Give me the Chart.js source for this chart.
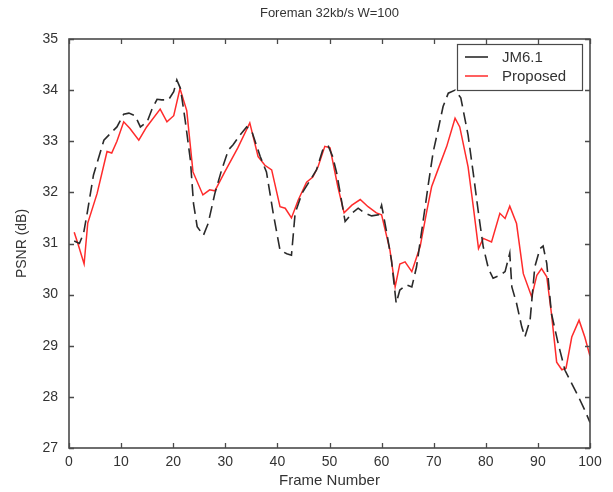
<!DOCTYPE html>
<html><head><meta charset="utf-8">
<script src="https://cdn.jsdelivr.net/npm/chart.js@4.4.0/dist/chart.umd.min.js"></script>
<style>html,body{margin:0;padding:0;background:#fff;}canvas{display:block;}</style>
</head><body>
<canvas id="c" width="613" height="492" style="width:613px;height:492px"></canvas>
<script>
const chartTitle = 'Foreman 32kb/s W=100';
const xAxisTitle = 'Frame Number';
const yAxisTitle = 'PSNR (dB)';
const seriesNames = ['JM6.1', 'Proposed'];
const xTickValues = [0, 10, 20, 30, 40, 50, 60, 70, 80, 90, 100];
const yTickValues = [27, 28, 29, 30, 31, 32, 33, 34, 35];

const jmFrames = [1, 2, 2.8, 3.5, 4.7, 6.7, 8.3, 9.2, 10.5, 11.5, 12.7, 13.7, 15, 15.9, 16.9, 17.8, 19.1, 20.1, 20.7, 21.4, 22.3, 23.3, 23.9, 24.6, 25.8, 26.7, 28, 29.3, 30.6, 31.5, 32.8, 34.1, 35.1, 36.7, 37.9, 39.2, 40.5, 41.8, 42.7, 43.4, 44.7, 46.3, 47.5, 48.8, 49.8, 50.6, 51.4, 53, 54.3, 55.5, 56.8, 58.1, 59.4, 60, 61, 61.9, 62.8, 63.5, 64.8, 65.8, 66.7, 68, 69, 69.9, 70.9, 71.8, 72.8, 74.1, 75.2, 76.6, 77.6, 78.6, 79.5, 80.5, 81.4, 82.7, 83.7, 84.6, 85, 85.9, 86.9, 87.5, 88.5, 89.4, 90.4, 91, 91.7, 92.6, 93.9, 95.2, 96.5, 97.8, 99, 100];
const jmPsnr = [31.05, 31.0, 31.2, 31.6, 32.34, 33.02, 33.19, 33.28, 33.53, 33.55, 33.5, 33.28, 33.38, 33.62, 33.82, 33.81, 33.81, 33.97, 34.2, 34.03, 33.41, 32.63, 31.78, 31.33, 31.16, 31.39, 31.98, 32.44, 32.83, 32.93, 33.12, 33.28, 33.19, 32.7, 32.4, 31.59, 30.87, 30.8, 30.77, 31.59, 31.98, 32.24, 32.44, 32.86, 32.9, 32.7, 32.37, 31.43, 31.59, 31.69, 31.59, 31.54, 31.56, 31.75, 31.2, 30.67, 29.83, 30.09, 30.19, 30.15, 30.54, 31.46, 32.18, 32.79, 33.25, 33.68, 33.94, 34.0, 33.85, 33.12, 32.37, 31.59, 30.94, 30.51, 30.32, 30.38, 30.45, 30.81, 30.15, 29.83, 29.37, 29.17, 29.5, 30.54, 30.9, 30.95, 30.61, 29.63, 29.04, 28.52, 28.26, 28.0, 27.74, 27.5];

const propFrames = [1, 1.7, 2.9, 3.6, 5.4, 7.3, 8.2, 9.2, 10.5, 11.7, 13.4, 14.9, 17.5, 18.8, 20.1, 21.3, 22.6, 23.8, 25.7, 27, 28, 29.9, 32.4, 34.7, 36.3, 37.6, 38.9, 40.5, 41.5, 42.7, 44, 45.6, 46.8, 47.8, 49.1, 50.1, 51.6, 52.8, 54.3, 55.9, 57.4, 59, 60, 61.6, 62.6, 63.5, 64.5, 65.8, 67.4, 68.7, 69.6, 70.8, 72.5, 74.1, 75, 76.6, 77.6, 78.6, 79.5, 81.1, 82.7, 83.7, 84.6, 85.9, 87.2, 88.8, 89.8, 90.7, 91.7, 92.6, 93.6, 94.6, 95.4, 96.5, 97.9, 99, 100];
const propPsnr = [31.22, 31.0, 30.6, 31.4, 31.98, 32.8, 32.77, 33.0, 33.38, 33.25, 33.02, 33.28, 33.63, 33.38, 33.5, 34.03, 33.6, 32.4, 31.95, 32.05, 32.03, 32.4, 32.87, 33.36, 32.7, 32.53, 32.44, 31.72, 31.69, 31.5, 31.85, 32.2, 32.3, 32.5, 32.9, 32.87, 32.11, 31.6, 31.75, 31.86, 31.72, 31.6, 31.56, 30.87, 30.15, 30.6, 30.64, 30.45, 30.94, 31.65, 32.11, 32.44, 32.9, 33.45, 33.28, 32.5, 31.72, 30.9, 31.1, 31.03, 31.59, 31.49, 31.73, 31.39, 30.41, 29.96, 30.38, 30.51, 30.35, 29.63, 28.68, 28.53, 28.56, 29.17, 29.5, 29.17, 28.8];

const FONT = '"Liberation Sans", Arial, Helvetica, sans-serif';
const TEXT = '#333333';
const AXIS = '#4a4a4a';

const toPoints = (xs, ys) => xs.map((x, i) => ({x: x, y: ys[i]}));

const matlabAxes = {
  id: 'matlabAxes',
  afterDatasetsDraw(chart) {
    const ctx = chart.ctx;
    const ca = chart.chartArea;
    const xs = chart.scales.x, ys = chart.scales.y;
    ctx.save();
    ctx.strokeStyle = AXIS;
    ctx.lineWidth = 1.3;
    ctx.setLineDash([]);
    const tl = 5;
    ctx.beginPath();
    xTickValues.forEach(v => {
      const px = Math.round(xs.getPixelForValue(v)) + 0.5;
      ctx.moveTo(px, ca.bottom); ctx.lineTo(px, ca.bottom - tl);
      ctx.moveTo(px, ca.top); ctx.lineTo(px, ca.top + tl);
    });
    yTickValues.forEach(v => {
      const py = Math.round(ys.getPixelForValue(v)) + 0.5;
      ctx.moveTo(ca.left, py); ctx.lineTo(ca.left + tl, py);
      ctx.moveTo(ca.right, py); ctx.lineTo(ca.right - tl, py);
    });
    ctx.stroke();
    ctx.lineWidth = 1.6;
    ctx.strokeRect(ca.left, ca.top, ca.right - ca.left, ca.bottom - ca.top);

    const bw = 125, bh = 46;
    const bx = ca.right - 133, by = ca.top + 5;
    ctx.fillStyle = '#fff';
    ctx.fillRect(bx, by, bw, bh);
    ctx.lineWidth = 1.2;
    ctx.strokeStyle = AXIS;
    ctx.strokeRect(bx + 0.5, by + 0.5, bw, bh);
    ctx.font = '15px ' + FONT;
    ctx.textBaseline = 'middle';
    ctx.textAlign = 'left';
    chart.data.datasets.forEach((ds, i) => {
      const ly = by + 13 + i * 19;
      ctx.strokeStyle = ds.borderColor;
      ctx.lineWidth = ds.borderWidth;
      ctx.setLineDash([]);
      ctx.beginPath();
      ctx.moveTo(bx + 8, ly); ctx.lineTo(bx + 31, ly);
      ctx.stroke();
      ctx.fillStyle = TEXT;
      ctx.fillText(ds.label, bx + 45, ly + 1);
    });
    ctx.restore();
  }
};

new Chart(document.getElementById('c'), {
  type: 'line',
  data: {
    datasets: [
      {
        label: seriesNames[0],
        data: toPoints(jmFrames, jmPsnr),
        borderColor: '#2a2a2a',
        borderWidth: 1.6,
        borderDash: [12, 6],
        pointRadius: 0,
        fill: false,
        tension: 0
      },
      {
        label: seriesNames[1],
        data: toPoints(propFrames, propPsnr),
        borderColor: '#ff2b2b',
        borderWidth: 1.5,
        pointRadius: 0,
        fill: false,
        tension: 0
      }
    ]
  },
  options: {
    responsive: false,
    animation: false,
    devicePixelRatio: 1,
    layout: {padding: {left: 0, right: 23, top: 0, bottom: 0}},
    plugins: {
      legend: {display: false},
      tooltip: {enabled: false},
      title: {
        display: true,
        text: chartTitle,
        fullSize: false,
        color: TEXT,
        font: {family: FONT, size: 13, weight: 'normal', lineHeight: 1.2},
        padding: {top: 6, bottom: 17.4}
      }
    },
    scales: {
      x: {
        type: 'linear',
        min: 0, max: 100,
        afterBuildTicks: s => { s.ticks = xTickValues.map(v => ({value: v})); },
        afterFit: s => { s.height = 44; },
        grid: {display: false, drawTicks: false},
        border: {display: false},
        ticks: {color: TEXT, font: {family: FONT, size: 14}, padding: 6, maxRotation: 0},
        title: {display: true, text: xAxisTitle, color: TEXT, font: {family: FONT, size: 15}, padding: {top: 0, bottom: 2}}
      },
      y: {
        type: 'linear',
        min: 27, max: 35,
        afterBuildTicks: s => { s.ticks = yTickValues.map(v => ({value: v})); },
        afterFit: s => { s.width = 69; },
        grid: {display: false, drawTicks: false},
        border: {display: false},
        ticks: {color: TEXT, font: {family: FONT, size: 14}, padding: 11},
        title: {display: true, text: yAxisTitle, color: TEXT, font: {family: FONT, size: 14}, padding: {top: 14, bottom: 0}}
      }
    }
  },
  plugins: [matlabAxes]
});
</script>
</body></html>
